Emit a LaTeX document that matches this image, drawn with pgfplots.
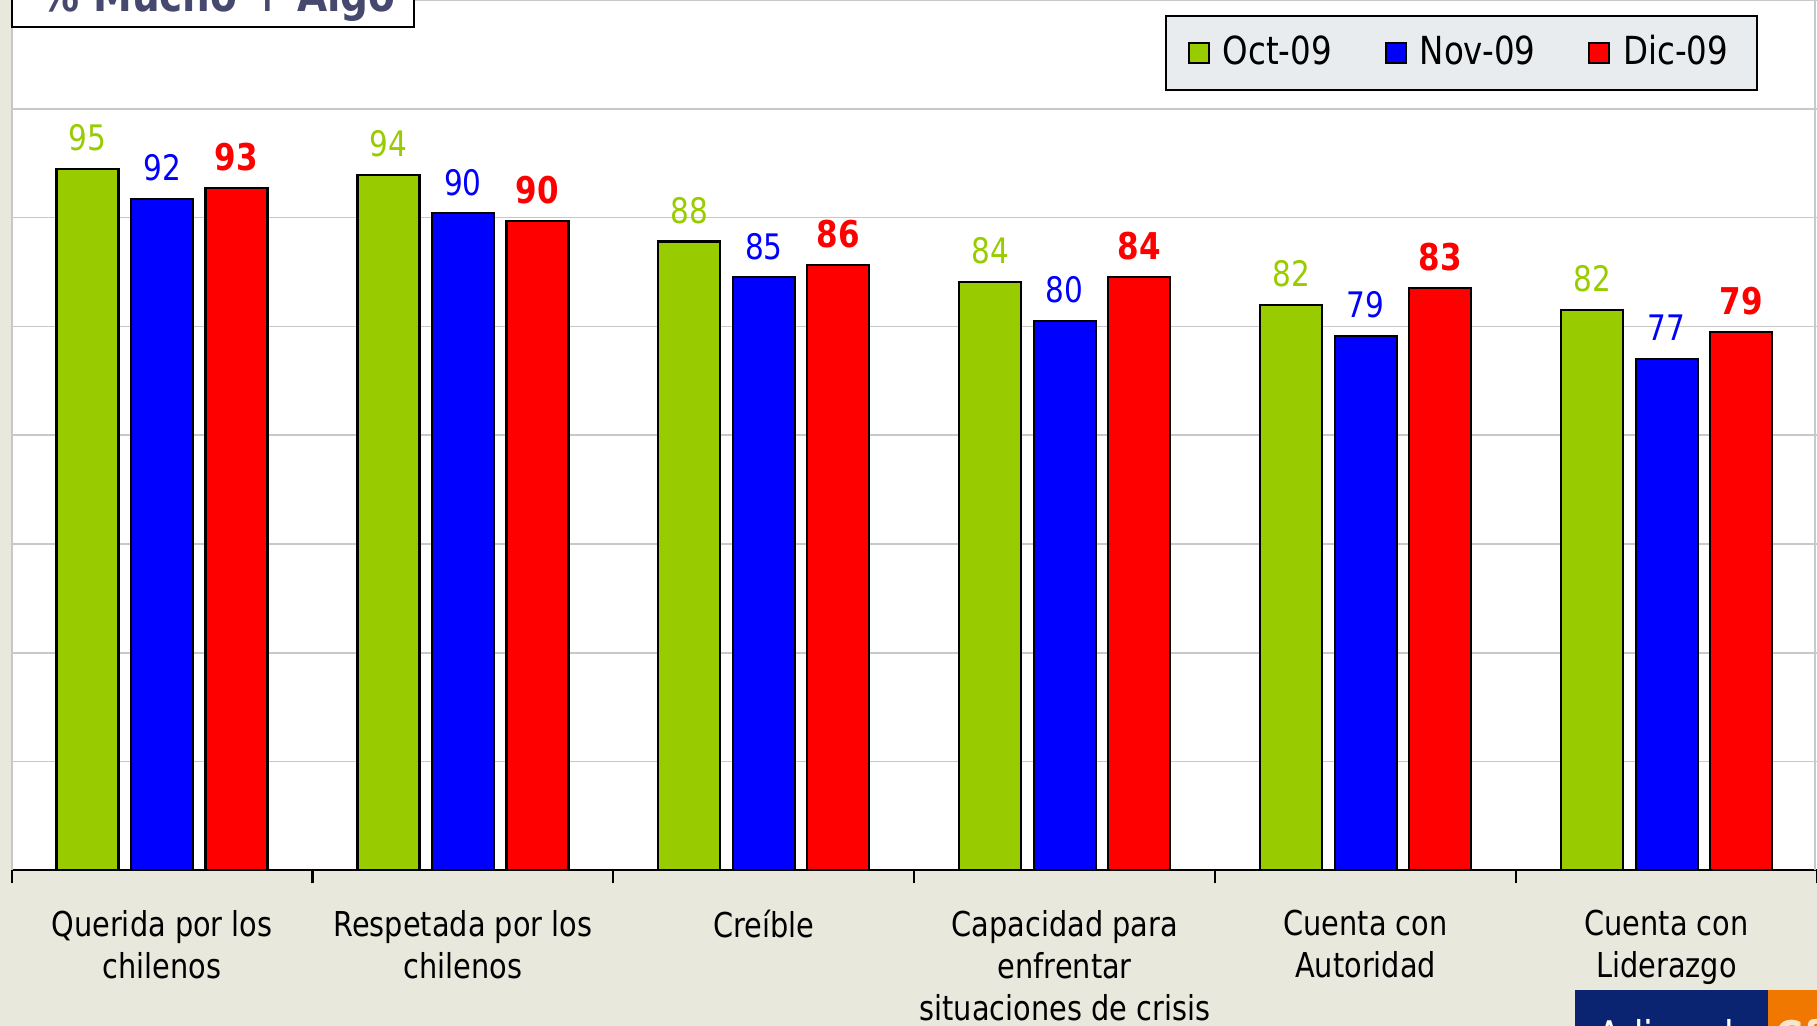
\documentclass[border=0pt]{standalone}
\usepackage{pgfplots}
\pgfplotsset{compat=1.18}
\usepackage{fontspec}
\setmainfont{DejaVu Sans}[FakeStretch=0.84]
\definecolor{bgbeige}{RGB}{233,232,221}
\definecolor{octgreen}{RGB}{153,204,0}
\definecolor{novblue}{RGB}{0,0,255}
\definecolor{dicred}{RGB}{255,0,0}
\definecolor{legbg}{RGB}{233,236,238}
\definecolor{titlecol}{RGB}{70,72,110}
\definecolor{gridgray}{RGB}{200,200,200}
\definecolor{logonavy}{RGB}{10,36,114}
\definecolor{logoorange}{RGB}{240,120,0}

\begin{document}
\begin{tikzpicture}
  \useasboundingbox (0,0) rectangle (18.17,10.26);
  \clip (0,0) rectangle (18.17,10.26);
  \fill[bgbeige] (0,0) rectangle (18.17,10.26);
  \begin{axis}[
      at={(0.116cm,1.557cm)}, anchor=south west,
      scale only axis, width=18.054cm, height=8.703cm,
      xmin=-0.5, xmax=5.5, ymin=30, ymax=110,
      ybar=0.125cm, bar width=0.62cm,
      axis background/.style={fill=white},
      axis lines*=left,
      x axis line style={black, line width=0.6pt},
      y axis line style={gridgray, line width=0.6pt},
      ytick={30,40,...,110}, yticklabels={}, ytick style={draw=none},
      ymajorgrids, grid style={gridgray, line width=0.45pt},
      xtick={0,...,5}, xtick style={draw=none},
      xticklabels={Querida por los\\chilenos, Respetada por los\\chilenos, Creíble,
        Capacidad para\\enfrentar\\situaciones de crisis, Cuenta con\\Autoridad, Cuenta con\\Liderazgo},
      xticklabel style={align=center, anchor=north, inner sep=0pt, yshift=-0.24cm,
        font=\fontsize{9.75}{11.95}\selectfont},
      extra x ticks={-0.5,0.5,...,5.5}, extra x tick labels={},
      extra x tick style={xtick style={draw=black, line width=0.6pt},
        major tick length=0.13cm, tick align=outside, grid=none},
      point meta=explicit symbolic,
      nodes near coords,
      nodes near coords style={anchor=center, yshift=0.31cm, font=\fontsize{10}{11}\selectfont},
      legend columns=3,
      legend style={at={(0.9674,0.9828)}, anchor=north east, draw=black, fill=legbg,
        line width=0.6pt, font=\fontsize{11}{13}\selectfont,
        inner xsep=0.22cm, inner ysep=0.125cm,
        /tikz/every odd column/.append style={column sep=0.06cm},
        /tikz/every even column/.append style={column sep=0.46cm}},
      legend image code/.code={\draw[#1, line width=0.5pt] (0cm,-0.1cm) rectangle (0.2cm,0.1cm);},
    ]
    \addplot[fill=octgreen, draw=black, line width=0.6pt,
      every node near coord/.append style={text=octgreen}] coordinates {
      (0,94.5) [95] (1,93.9) [94] (2,87.8) [88] (3,84.1) [84] (4,82.0) [82] (5,81.5) [82]
    };
    \addlegendentry{Oct-09}
    \addplot[fill=novblue, draw=black, line width=0.6pt,
      every node near coord/.append style={text=novblue}] coordinates {
      (0,91.7) [92] (1,90.4) [90] (2,84.5) [85] (3,80.5) [80] (4,79.1) [79] (5,77.0) [77]
    };
    \addlegendentry{Nov-09}
    \addplot[fill=dicred, draw=black, line width=0.6pt,
      every node near coord/.append style={text=dicred, font=\fontsize{10.5}{11}\selectfont\bfseries}] coordinates {
      (0,92.7) [93] (1,89.7) [90] (2,85.6) [86] (3,84.5) [84] (4,83.5) [83] (5,79.5) [79]
    };
    \addlegendentry{Dic-09}
  \end{axis}
  % right border of the plot area
  \draw[gridgray, line width=0.6pt] (18.15,1.557) -- (18.15,10.26);
  % title box, cut by the top edge
  \draw[fill=white, line width=0.6pt] (0.12,9.99) rectangle (4.14,10.6);
  \node[anchor=base west, inner sep=0pt, text=titlecol,
    font=\fontsize{13.2}{15}\selectfont\bfseries] at (0.40,10.14) {\% Mucho + Algo};
  % logo, cut by the bottom edge
  \fill[logonavy] (15.75,0) rectangle (17.68,0.36);
  \fill[logoorange] (17.68,0) rectangle (18.17,0.36);
  \node[anchor=base west, inner sep=0pt, text=white,
    font=\fontsize{12}{14}\selectfont] at (15.97,-0.26) {Adimark};
  \node[anchor=base west, inner sep=0pt, text=white!80!logoorange,
    font=\fontsize{12}{14}\selectfont\bfseries] at (17.75,-0.26) {GfK};
\end{tikzpicture}
\end{document}
